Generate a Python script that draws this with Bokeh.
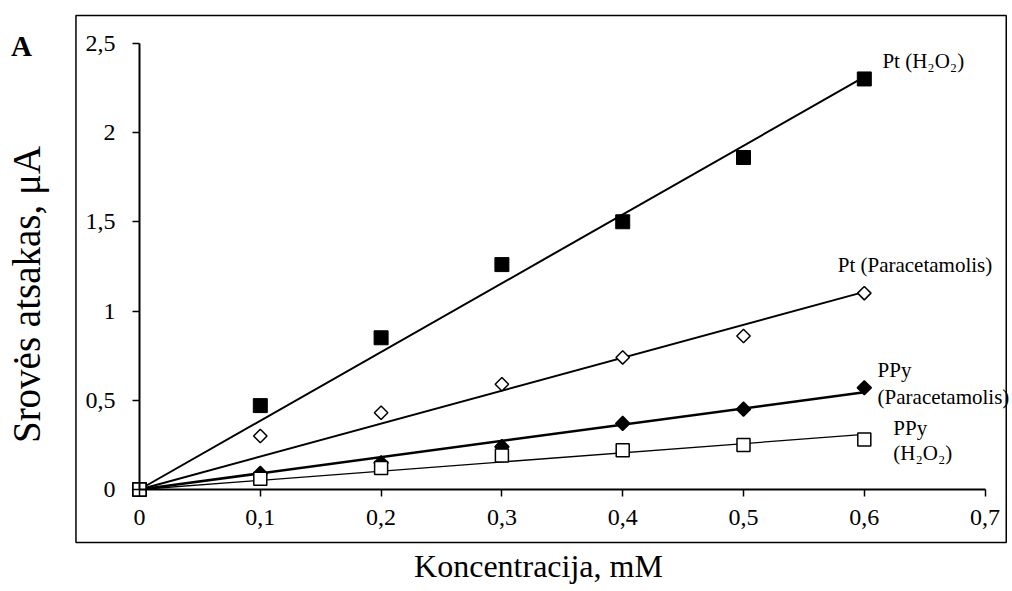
import numpy as np
from bokeh.plotting import figure
from bokeh.models import Range1d, FixedTicker, CustomJSTickFormatter, Label, BoxAnnotation
from bokeh.embed import file_html
from bokeh.resources import INLINE

# ---- data ----
conc = [0, 0.1, 0.2, 0.3, 0.4, 0.5, 0.6]
pt_h2o2 = [0, 0.47, 0.85, 1.26, 1.50, 1.86, 2.30]
pt_para = [0, 0.30, 0.43, 0.59, 0.74, 0.86, 1.10]
ppy_para = [0, 0.09, 0.15, 0.24, 0.37, 0.45, 0.57]
ppy_h2o2 = [0, 0.06, 0.12, 0.19, 0.22, 0.25, 0.28]

x_ticks = [0, 0.1, 0.2, 0.3, 0.4, 0.5, 0.6, 0.7]
y_ticks = [0, 0.5, 1, 1.5, 2, 2.5]

x_title = "Koncentracija, mM"
y_title = "Srovės atsakas, μA"
panel_letter = "A"

FONT = "Liberation Serif"

p = figure(frame_width=1012, frame_height=588,
           min_border_left=0, min_border_right=0, min_border_top=0, min_border_bottom=0,
           x_range=Range1d(-0.11507, 0.72268), y_range=Range1d(-0.5546, 2.7395),
           output_backend="svg", toolbar_location=None, tools="")

p.background_fill_color = "white"
p.border_fill_color = "white"
p.outline_line_color = None
p.xgrid.visible = False
p.ygrid.visible = False

# outer chart box
p.add_layout(BoxAnnotation(left=-0.0526, right=0.7175, top=2.6555, bottom=-0.297,
                           fill_color=None, fill_alpha=0, line_color="black",
                           line_alpha=1.0, line_width=1.5))

fmt = CustomJSTickFormatter(code="return tick.toString().replace('.', ',');")
for ax, ticks, bnds in ((p.xaxis, x_ticks, (0, 0.7)), (p.yaxis, y_ticks, (0, 2.5))):
    ax.ticker = FixedTicker(ticks=ticks)
    ax.formatter = fmt
    ax.fixed_location = 0
    ax.bounds = bnds
    ax.axis_line_width = 2
    ax.axis_line_color = "black"
    ax.major_tick_line_color = "black"
    ax.major_tick_line_width = 1.5
    ax.major_tick_in = 0
    ax.major_tick_out = 7
    ax.minor_tick_line_color = None
    ax.major_label_text_font = FONT
    ax.major_label_text_font_size = "24px"
    ax.major_label_text_color = "black"
p.xaxis.major_label_standoff = 13
p.yaxis.major_label_standoff = 17

# trend lines (least squares through origin)
cx = np.array(conc)
def fit_line(vals):
    v = np.array(vals)
    k = float((cx * v).sum() / (cx * cx).sum())
    return [0, cx.max()], [0, k * cx.max()]

for vals, lw in ((pt_h2o2, 2), (pt_para, 2), (ppy_para, 2.5), (ppy_h2o2, 1.3)):
    lx, ly = fit_line(vals)
    p.line(lx, ly, line_color="black", line_width=lw)

# markers
p.scatter(conc, pt_h2o2, marker="square", size=14, fill_color="black", line_color="black")
p.scatter(conc, pt_para, marker="square", angle=np.pi / 4, size=9.5,
          fill_color="white", line_color="black", line_width=1.5)
p.scatter(conc, ppy_para, marker="square", angle=np.pi / 4, size=10,
          fill_color="black", line_color="black", line_width=1.5)
p.scatter(conc, ppy_h2o2, marker="square", size=13, fill_color="white",
          line_color="black", line_width=1.5)

# series labels
series_labels = [
    ("Pt (H\u2082O\u2082)", 0.615, 2.40),
    ("Pt (Paracetamolis)", 0.578, 1.255),
    ("PPy", 0.611, 0.667),
    ("(Paracetamolis)", 0.611, 0.521),
    ("PPy", 0.624, 0.342),
    ("(H\u2082O\u2082)", 0.624, 0.207),
]
for t, lx, ly in series_labels:
    p.add_layout(Label(x=lx, y=ly, text=t, text_font=FONT, text_font_size="21px",
                       text_align="left", text_baseline="middle", text_color="black"))

# axis titles and panel letter
p.add_layout(Label(x=0.3303, y=-0.4258, text=x_title, text_font=FONT, text_font_size="32px",
                   text_align="center", text_baseline="middle", text_color="black"))
p.add_layout(Label(x=-0.0935, y=1.0924, text=y_title, text_font=FONT, text_font_size="39px",
                   angle=np.pi / 2, text_align="center", text_baseline="middle",
                   text_color="black"))
p.add_layout(Label(x=-0.0977, y=2.482, text=panel_letter, text_font=FONT,
                   text_font_size="29px", text_font_style="bold",
                   text_align="center", text_baseline="middle", text_color="black"))

open("out.html", "w").write(file_html(p, INLINE))
